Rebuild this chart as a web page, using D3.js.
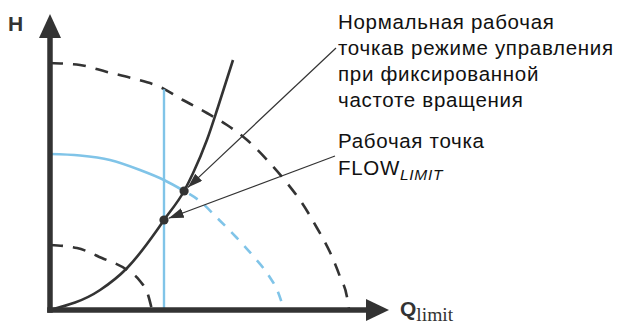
<!DOCTYPE html>
<html>
<head>
<meta charset="utf-8">
<script src="https://cdn.jsdelivr.net/npm/d3@7"></script>
<style>
  html, body { margin: 0; padding: 0; background: #fff; }
  svg { display: block; }
</style>
</head>
<body>
<div id="chart"></div>
<script>
// кривые насоса (Q, H в условных единицах 0..100)
const pumpMaxQ = [0, 10, 19, 27.7, 36.7, 44.3, 52.3, 59, 65.7, 73.3, 79, 84, 89, 93.3, 96.7, 99, 99.7];
const pumpMaxH = [98.8, 98, 95.2, 92.6, 89.2, 84, 78.8, 74, 68, 58.8, 50.8, 42.8, 32.8, 23.2, 13.2, 5.2, 0];

const pumpMinQ = [0, 9, 17.3, 25.7, 30, 32.7, 34];
const pumpMinH = [26, 24.8, 20.8, 16, 11.6, 6, 0];

const limitQ = [0, 10, 20, 30, 38, 44.7, 50, 56, 62, 68, 73, 76, 78];
const limitH = [62.4, 61.8, 60, 56, 52, 47.6, 43.5, 36.5, 29.2, 21.2, 13.6, 7.2, 0];

const systemQ = [0, 16.7, 25.7, 35.7, 38, 44.7, 47.7, 52.3, 56, 61];
const systemH = [0, 8, 16.8, 32, 36, 47.6, 54.8, 68, 81.2, 100];

const qLimit = 38;        // вертикальная линия FLOW_LIMIT
const qLimitTop = 88.3;
const normalPoint = [44.7, 47.6];
const limitPoint = [38, 36];

const labelNormal = ["Нормальная рабочая", "точкав режиме управления", "при фиксированной", "частоте вращения"];
const labelLimit = ["Рабочая точка", "FLOW", "LIMIT"];

const width = 618, height = 325;
const dark = "#333333", blue = "#80c4e8";

const svg = d3.select("#chart").append("svg")
  .attr("width", width)
  .attr("height", height);

const x = d3.scaleLinear().domain([0, 100]).range([50, 350]);
const y = d3.scaleLinear().domain([0, 100]).range([310, 60]);

const zip = (qs, hs) => qs.map((q, i) => ({ q: q, h: hs[i] }));

const line = d3.line()
  .x(d => x(d.q))
  .y(d => y(d.h))
  .curve(d3.curveMonotoneX);

// кривые
const curves = svg.append("g").attr("fill", "none").attr("stroke-linecap", "butt");

curves.append("path")
  .attr("d", line(zip(pumpMaxQ, pumpMaxH)))
  .attr("stroke", dark).attr("stroke-width", 2.6)
  .attr("stroke-dasharray", "13,10");

curves.append("path")
  .attr("d", line(zip(pumpMinQ, pumpMinH)))
  .attr("stroke", dark).attr("stroke-width", 2.6)
  .attr("stroke-dasharray", "13,10");

const limitPts = zip(limitQ, limitH);
curves.append("path")
  .attr("d", line(limitPts.filter(d => d.q <= normalPoint[0])))
  .attr("stroke", blue).attr("stroke-width", 2.6);
curves.append("path")
  .attr("d", line(limitPts.filter(d => d.q >= normalPoint[0])))
  .attr("stroke", blue).attr("stroke-width", 2.6)
  .attr("stroke-dasharray", "10,9")
  .attr("stroke-dashoffset", -6);

curves.append("line")
  .attr("x1", x(qLimit)).attr("x2", x(qLimit))
  .attr("y1", y(qLimitTop)).attr("y2", y(0))
  .attr("stroke", blue).attr("stroke-width", 2.4);

curves.append("path")
  .attr("d", line(zip(systemQ, systemH)))
  .attr("stroke", dark).attr("stroke-width", 2.6);

// оси
const axes = svg.append("g").attr("fill", dark).attr("stroke", dark);
axes.append("line")
  .attr("x1", x(0)).attr("x2", x(0))
  .attr("y1", y(0) + 2.8).attr("y2", 36)
  .attr("stroke-width", 5.5);
axes.append("path")
  .attr("stroke", "none")
  .attr("d", `M${x(0)},14L${x(0) + 11},38L${x(0) - 11},38Z`);
axes.append("line")
  .attr("x1", x(0) - 2.8).attr("x2", 368)
  .attr("y1", y(0)).attr("y2", y(0))
  .attr("stroke-width", 5.5);
axes.append("path")
  .attr("stroke", "none")
  .attr("d", `M389,${y(0)}L366,${y(0) - 11}L366,${y(0) + 11}Z`);

// выноски со стрелками
svg.append("defs").append("marker")
  .attr("id", "arrow")
  .attr("markerWidth", 16).attr("markerHeight", 12)
  .attr("refX", 15).attr("refY", 5)
  .attr("orient", "auto")
  .attr("markerUnits", "userSpaceOnUse")
  .append("path")
  .attr("d", "M0,0L15,5L0,10Z")
  .attr("fill", dark);

const leaders = [
  { from: [336, 48], to: normalPoint, pad: 5 },
  { from: [335, 156], to: limitPoint, pad: 5 }
];
svg.append("g").selectAll("line")
  .data(leaders)
  .join("line")
  .each(function (d) {
    const tx = x(d.to[0]), ty = y(d.to[1]);
    const dx = d.from[0] - tx, dy = d.from[1] - ty;
    const len = Math.sqrt(dx * dx + dy * dy);
    d3.select(this)
      .attr("x1", d.from[0]).attr("y1", d.from[1])
      .attr("x2", tx + dx / len * d.pad).attr("y2", ty + dy / len * d.pad);
  })
  .attr("stroke", dark).attr("stroke-width", 1.2)
  .attr("marker-end", "url(#arrow)");

// рабочие точки
svg.append("g").selectAll("circle")
  .data([normalPoint, limitPoint])
  .join("circle")
  .attr("cx", d => x(d[0])).attr("cy", d => y(d[1]))
  .attr("r", 4.6)
  .attr("fill", dark);

// подписи
const font = "'Liberation Sans', Arial, sans-serif";
svg.append("text")
  .attr("x", 8).attr("y", 31)
  .attr("font-family", font).attr("font-weight", "bold").attr("font-size", 21)
  .attr("fill", dark)
  .text("H");

const qText = svg.append("text")
  .attr("x", 400).attr("y", 316)
  .attr("fill", dark);
qText.append("tspan")
  .attr("font-family", font).attr("font-weight", "bold").attr("font-size", 21)
  .text("Q");
qText.append("tspan")
  .attr("font-family", "'Liberation Serif', 'Times New Roman', serif").attr("font-size", 19.5)
  .attr("dy", 5)
  .text("limit");

const labelStyle = sel => sel
  .attr("font-family", font).attr("font-size", 20.5)
  .attr("letter-spacing", 0.7)
  .attr("fill", "#111");

svg.append("g").selectAll("text")
  .data(labelNormal)
  .join("text")
  .attr("x", 338)
  .attr("y", (d, i) => 29 + i * 26)
  .call(labelStyle)
  .text(d => d);

svg.append("text")
  .attr("x", 338).attr("y", 148)
  .call(labelStyle)
  .text(labelLimit[0]);

const flow = svg.append("text")
  .attr("x", 338).attr("y", 175)
  .call(labelStyle);
flow.append("tspan").text(labelLimit[1]);
flow.append("tspan")
  .attr("font-style", "italic").attr("font-size", 15.5)
  .attr("dy", 5)
  .text(labelLimit[2]);
</script>
</body>
</html>
